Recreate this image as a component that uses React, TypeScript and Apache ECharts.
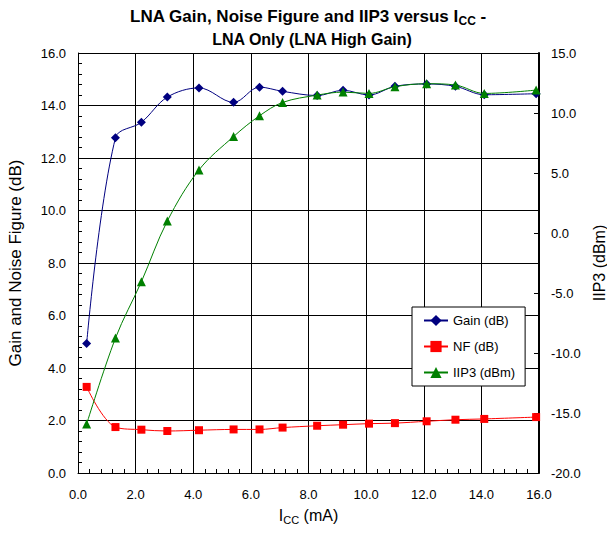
import React, { useEffect, useRef } from 'react';
import * as echarts from 'echarts';

const icc = [0.3, 1.3, 2.2, 3.1, 4.2, 5.4, 6.3, 7.1, 8.3, 9.2, 10.1, 11.0, 12.1, 13.1, 14.1, 15.9];
const gain = [4.93, 12.77, 13.36, 14.32, 14.67, 14.12, 14.7, 14.54, 14.38, 14.58, 14.4, 14.73, 14.82, 14.73, 14.41, 14.45];
const nf = [3.28, 1.75, 1.65, 1.6, 1.63, 1.66, 1.66, 1.73, 1.8, 1.84, 1.88, 1.9, 1.97, 2.03, 2.06, 2.13];
const iip3 = [-15.92, -8.76, -4.06, 1.0, 5.26, 8.04, 9.77, 10.88, 11.49, 11.74, 11.63, 12.19, 12.44, 12.33, 11.63, 11.91];

const seriesNames = ['Gain (dB)', 'NF (dB)', 'IIP3 (dBm)'];
const titleMain = 'LNA Gain, Noise Figure and IIP3 versus I';
const titleSub = 'LNA Only (LNA High Gain)';

const FONT = 'Arial, "Liberation Sans", sans-serif';

export default function App() {
  const ref = useRef<HTMLDivElement>(null);
  useEffect(() => {
    if (!ref.current) return;
    const chart = echarts.init(ref.current, null, { renderer: 'svg' });
    const pair = (ys: number[]) => icc.map((x, i) => [x, ys[i]]);
    const fmt = (v: number) => v.toFixed(1);
    chart.setOption({
      animation: false,
      backgroundColor: '#fff',
      textStyle: { fontFamily: FONT },
      graphic: [
        {
          type: 'text',
          x: 308,
          y: 6,
          style: {
            text: '{b|' + titleMain + '}{s|CC}{b| -}',
            align: 'center',
            fill: '#000',
            rich: {
              b: { fontSize: 17, fontWeight: 'bold', fontFamily: FONT, lineHeight: 21, fill: '#000' },
              s: { fontSize: 12, fontWeight: 'bold', fontFamily: FONT, lineHeight: 12, verticalAlign: 'bottom', fill: '#000' },
            },
          },
        },
        {
          type: 'text',
          x: 312,
          y: 31,
          style: {
            text: titleSub,
            align: 'center',
            fill: '#000',
            font: 'bold 16px ' + FONT,
          },
        },
      ],
      grid: { left: 78, right: 68, top: 53, bottom: 61, containLabel: false, outerBoundsMode: 'none' },
      legend: {
        data: seriesNames,
        orient: 'vertical',
        left: 412,
        top: 307,
        padding: [7, 10, 7, 11],
        itemGap: 13,
        itemWidth: 24,
        itemHeight: 14,
        borderColor: '#000',
        borderWidth: 1,
        backgroundColor: '#fff',
        textStyle: { fontSize: 13, color: '#000', fontFamily: FONT },
      },
      xAxis: {
        type: 'value',
        min: 0,
        max: 16,
        interval: 2,
        name: 'I{s|CC} (mA)',
        nameLocation: 'middle',
        nameGap: 32,
        nameTextStyle: {
          fontSize: 16,
          color: '#000',
          fontFamily: FONT,
          lineHeight: 20,
          rich: { s: { fontSize: 11, lineHeight: 11, verticalAlign: 'bottom', fontFamily: FONT, color: '#000' } },
        },
        axisLine: { lineStyle: { color: '#000', width: 1 } },
        axisTick: { inside: true, length: 5, lineStyle: { color: '#000' } },
        minorTick: { show: true, splitNumber: 5, length: 4, lineStyle: { color: '#000' } },
        axisLabel: { formatter: fmt, fontSize: 13, color: '#000', margin: 15, fontFamily: FONT },
        splitLine: { show: true, lineStyle: { color: '#000', width: 1 } },
      },
      yAxis: [
        {
          type: 'value',
          min: 0,
          max: 16,
          interval: 2,
          name: 'Gain and Noise Figure (dB)',
          nameLocation: 'middle',
          nameGap: 54,
          nameTextStyle: { fontSize: 17, color: '#000', fontFamily: FONT },
          axisLine: { show: true, lineStyle: { color: '#000', width: 1 } },
          axisTick: { show: true, inside: true, length: 5, lineStyle: { color: '#000' } },
          minorTick: { show: true, splitNumber: 5, length: 4, lineStyle: { color: '#000' } },
          axisLabel: { formatter: fmt, fontSize: 13, color: '#000', margin: 12, fontFamily: FONT },
          splitLine: { show: true, lineStyle: { color: '#000', width: 1 } },
        },
        {
          type: 'value',
          min: -20,
          max: 15,
          interval: 5,
          position: 'right',
          name: 'IIP3 (dBm)',
          nameLocation: 'middle',
          nameGap: 49,
          nameRotate: 90,
          nameTextStyle: { fontSize: 16, color: '#000', fontFamily: FONT },
          axisLine: { show: true, lineStyle: { color: '#000', width: 2 } },
          axisTick: { show: true, inside: true, length: 5, lineStyle: { color: '#000' } },
          axisLabel: { formatter: fmt, fontSize: 13, color: '#000', margin: 12, fontFamily: FONT },
          splitLine: { show: false },
        },
      ],
      series: [
        {
          name: seriesNames[0],
          type: 'line',
          yAxisIndex: 0,
          data: pair(gain),
          smooth: 0.35,
          symbol: 'diamond',
          symbolSize: 9,
          itemStyle: { color: '#000080' },
          lineStyle: { color: '#000080', width: 1 },
          z: 3,
        },
        {
          name: seriesNames[1],
          type: 'line',
          yAxisIndex: 0,
          data: pair(nf),
          smooth: 0.35,
          symbol: 'rect',
          symbolSize: 8,
          itemStyle: { color: '#ff0000' },
          lineStyle: { color: '#ff0000', width: 1 },
          z: 4,
        },
        {
          name: seriesNames[2],
          type: 'line',
          yAxisIndex: 1,
          data: pair(iip3),
          smooth: 0.35,
          symbol: 'triangle',
          symbolSize: 9,
          itemStyle: { color: '#008000' },
          lineStyle: { color: '#008000', width: 1 },
          z: 5,
        },
      ],
    });
    return () => chart.dispose();
  }, []);
  return <div ref={ref} style={{ width: 607, height: 534, position: 'absolute', left: 0, top: 0 }} />;
}
